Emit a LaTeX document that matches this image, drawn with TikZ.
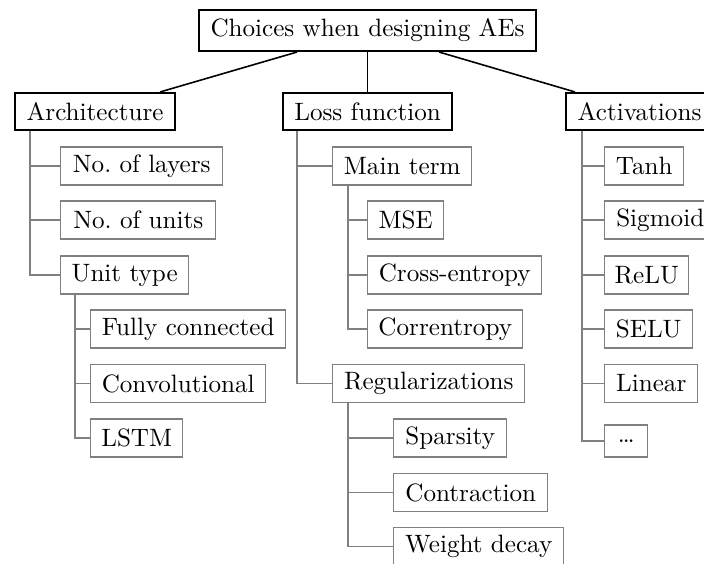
\documentclass[tikz,border=0pt]{standalone}
\usetikzlibrary{calc}
\begin{document}
\begin{tikzpicture}[x=0.41pt,y=-0.41pt,
  every node/.style={rectangle, inner sep=0pt, text=black, anchor=west,
    font=\fontsize{10.3pt}{12pt}\selectfont},
  rootbox/.style={draw=black, line width=0.85pt, minimum height=41*0.41pt},
  headbox/.style={draw=black, line width=0.85pt, minimum height=37*0.41pt},
  leafbox/.style={draw=black!50, line width=0.6pt, minimum height=38*0.41pt},
  wd/.style={minimum width=#1*0.41pt},
  trunk/.style={draw=black, line width=0.65pt},
  branch/.style={draw=black!50, line width=0.6pt}]
\useasboundingbox (0,0) rectangle (704,563);
\clip (0,0) rectangle (704,563);

% root and first level
\node[rootbox, wd=337] (root) at (198,30.5) {Choices when designing AEs};
\node[headbox, wd=160] (arch) at (14,111.5) {Architecture};
\node[headbox, wd=169] (loss) at (282,111.5) {Loss function};
\node[headbox, wd=147] (act)  at (565,111.5) {Activations};

% architecture
\node[leafbox, wd=162] (layers) at (60,166)   {No.\ of layers};
\node[leafbox, wd=155] (units)  at (60,220)   {No.\ of units};
\node[leafbox, wd=128] (utype)  at (60,275)   {Unit type};
\node[leafbox, wd=195] (fully)  at (90,329)   {Fully connected};
\node[leafbox, wd=175] (conv)   at (90,383.5) {Convolutional};
\node[leafbox, wd=92]  (lstm)   at (90,438)   {LSTM};

% loss function
\node[leafbox, wd=139] (main)   at (332,166)   {Main term};
\node[leafbox, wd=76]  (mse)    at (367,220)   {MSE};
\node[leafbox, wd=174] (cross)  at (367,275)   {Cross-entropy};
\node[leafbox, wd=155] (corr)   at (367,329)   {Correntropy};
\node[leafbox, wd=192] (reg)    at (332,383.5) {Regularizations};
\node[leafbox, wd=113] (spars)  at (393,438)   {Sparsity};
\node[leafbox, wd=154] (contr)  at (393,492.5) {Contraction};
\node[leafbox, wd=170] (wdecay) at (393,546.5) {Weight decay};

% activations
\node[leafbox, wd=79]  (tanh)   at (604,166)   {Tanh};
\node[leafbox, wd=111] (sigm)   at (604,220)   {Sigmoid};
\node[leafbox, wd=84]  (relu)   at (604,275)   {ReLU};
\node[leafbox, wd=88]  (selu)   at (604,329)   {SELU};
\node[leafbox, wd=93]  (linear) at (604,383.5) {Linear};
\node[leafbox, wd=43, minimum height=32*0.41pt] (more) at (604,441) {\dots};

% top-level connectors
\draw[trunk] ($(root.south west)+(99,0)$) -- ($(arch.north east)+(-16,0)$);
\draw[trunk] (root.south) -- (loss.north);
\draw[trunk] ($(root.south east)+(-98,0)$) -- ($(act.north west)+(10,0)$);

% tree branches
\foreach \c in {layers,units,utype}
  \draw[branch] ($(arch.south west)+(16,0)$) |- (\c.west);
\foreach \c in {fully,conv,lstm}
  \draw[branch] ($(utype.south west)+(15,0)$) |- (\c.west);
\foreach \c in {main,reg}
  \draw[branch] ($(loss.south west)+(15,0)$) |- (\c.west);
\foreach \c in {mse,cross,corr}
  \draw[branch] ($(main.south west)+(16,0)$) |- (\c.west);
\foreach \c in {spars,contr,wdecay}
  \draw[branch] ($(reg.south west)+(16,0)$) |- (\c.west);
\foreach \c in {tanh,sigm,relu,selu,linear,more}
  \draw[branch] ($(act.south west)+(17,0)$) |- (\c.west);
\end{tikzpicture}
\end{document}
